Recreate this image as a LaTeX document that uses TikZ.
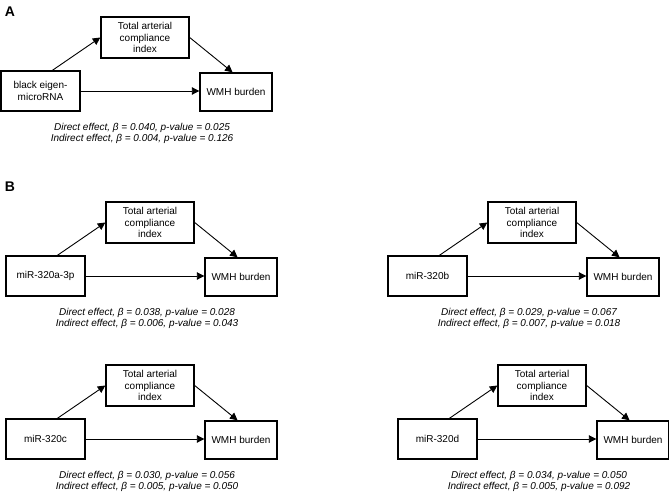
\documentclass[tikz,border=0pt]{standalone}
\usepackage{fontspec}
\setmainfont{Liberation Sans}
\usetikzlibrary{arrows.meta,positioning}

\begin{document}
\begin{tikzpicture}[x=1pt,y=-1pt,
  box/.style={draw,line width=1.4pt,inner sep=0pt,align=center,font=\fontsize{10}{11.7}\selectfont},
  link/.style={-{Triangle[length=7.5pt,width=7.5pt]},line width=0.9pt},
  effect/.style={align=center,font=\fontsize{10}{11}\selectfont\itshape},
  panel/.style={font=\bfseries\fontsize{14}{14}\selectfont}]
  \useasboundingbox (0,0) rectangle (669,495);
  \node[panel] (labA) at (10,12) {A};
  \node[panel] (labB) at (10,187) {B};
  % one mediation triangle per panel
  \foreach \name/\x/\y/\src/\bdir/\pdir/\bind/\pind in {
      a/1/71/{black eigen-\\microRNA}/0.040/0.025/0.004/0.126,
      b/6/256/{miR-320a-3p}/0.038/0.028/0.006/0.043,
      c/388/256/{miR-320b}/0.029/0.067/0.007/0.018,
      d/6/419/{miR-320c}/0.030/0.056/0.005/0.050,
      e/398/419/{miR-320d}/0.034/0.050/0.005/0.092}{
    \begin{scope}[shift={(\x,\y)}]
      \node[box,minimum width=79pt,minimum height=40pt] (src\name) at (39.5,20) {\src};
      \node[box,minimum width=88pt,minimum height=41pt] (med\name) at (144,-33.5) {Total arterial\\compliance\\index};
      \node[box,minimum width=72pt,minimum height=38pt] (wmh\name) at (235,21) {WMH burden};
      \node[effect] (eff\name) at (141,62.5) {Direct effect, β = \bdir, p-value = \pdir\\Indirect effect, β = \bind, p-value = \pind};
      \draw[link] (src\name.60) -- (med\name.west);
      \draw[link] (med\name.east) -- (wmh\name.100);
      \draw[link] (src\name.east) -- (src\name.east -| wmh\name.west);
    \end{scope}
  }
\end{tikzpicture}
\end{document}
